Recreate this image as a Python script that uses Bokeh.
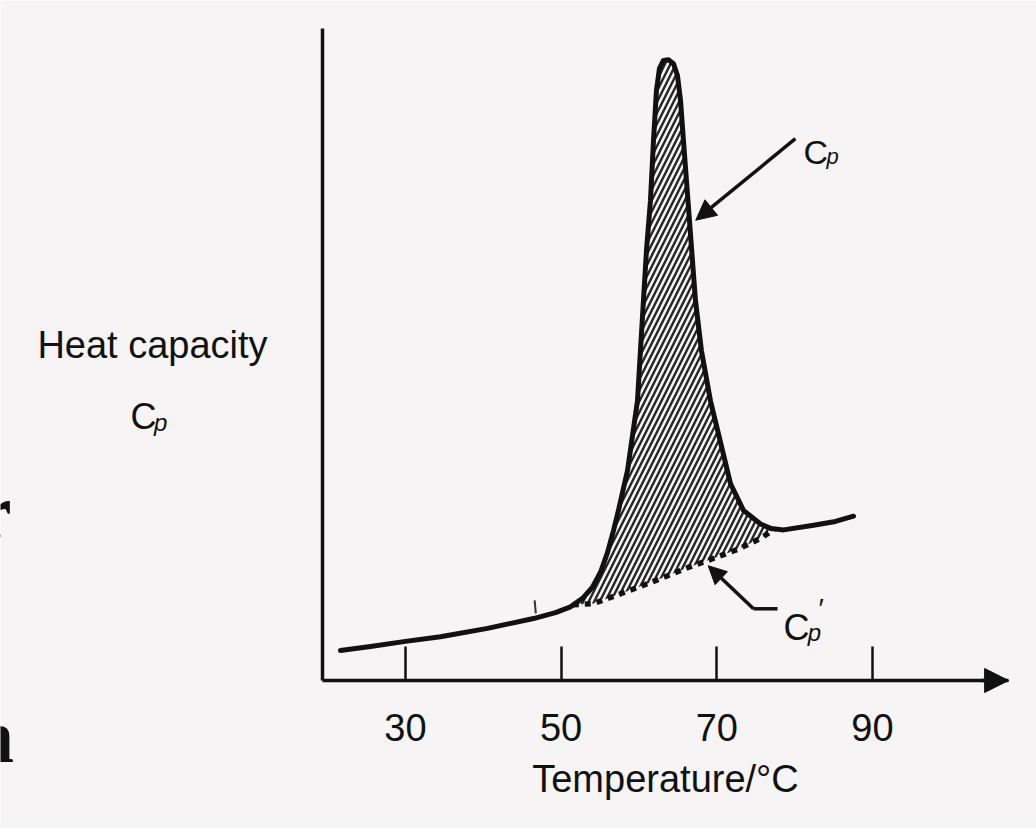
from bokeh.plotting import figure
from bokeh.models import Range1d, FixedTicker, Label, Arrow, NormalHead, LinearAxis
from bokeh.embed import file_html
from bokeh.resources import INLINE

# Heat capacity trace through the unfolding transition (arbitrary units)
temp_c = [21.65, 25.51, 30.0, 34.5, 40.54, 46.45, 49.28, 51.21, 52.75, 54.03,
          55.06, 55.96, 56.73, 57.37, 58.53, 59.81, 60.58, 60.97, 61.48, 61.87,
          62.25, 62.64, 63.15, 63.80, 64.44, 64.95, 65.34, 65.72, 66.37, 67.26,
          68.03, 69.19, 70.73, 71.76, 73.43, 75.62, 77.0, 78.6, 82.43, 85.25, 87.57]
cp = [0.46, 0.52, 0.60, 0.67, 0.80, 0.95, 1.04, 1.13, 1.26, 1.43,
      1.66, 1.96, 2.30, 2.61, 3.22, 4.29, 5.83, 6.60, 7.36, 8.28,
      9.05, 9.39, 9.51, 9.52, 9.46, 9.28, 8.90, 8.28, 7.25, 5.83,
      5.06, 4.29, 3.53, 3.02, 2.61, 2.40, 2.33, 2.31, 2.38, 2.44, 2.52]

# Extrapolated baseline C'p under the peak
base_t = [51.5, 54.16, 57.63, 61.87, 66.24, 68.81, 72.66, 75.62, 77.4]
base_cp = [1.16, 1.18, 1.33, 1.52, 1.73, 1.84, 2.01, 2.18, 2.32]

# Temperature axis ticks and extents of both axes
tick_values = [30, 50, 70, 90]
t_axis = (19.34, 107.5)
cp_axis = (0.0, 10.0)

# Small mark on the pre-transition baseline
onset_t = [46.6, 46.75]
onset_cp = [1.23, 1.03]

BG = "#f6f4f5"
INK = "#111111"
FONT = "Liberation Sans"

# the frame spans the whole canvas; axes sit at fixed data positions inside it
p = figure(width=1036, height=828, output_backend="svg", toolbar_location=None,
           x_range=Range1d(-22.03, 111.08), y_range=Range1d(-2.27, 10.43),
           x_axis_location=None, y_axis_location=None, min_border=0)
p.background_fill_color = BG
p.border_fill_color = BG
p.outline_line_color = None
p.xgrid.visible = False
p.ygrid.visible = False

# temperature axis: inward ticks only at the labelled temperatures
xa = LinearAxis(fixed_location=cp_axis[0], bounds=t_axis,
                ticker=FixedTicker(ticks=tick_values))
xa.minor_tick_line_color = None
xa.major_tick_in = 34
xa.major_tick_out = 0
xa.major_tick_line_width = 2.5
xa.major_tick_line_color = INK
xa.axis_line_width = 3.5
xa.axis_line_color = INK
xa.major_label_text_font = FONT
xa.major_label_text_font_size = "38px"
xa.major_label_text_color = INK
xa.major_label_standoff = 33
xa.axis_label = "Temperature/°C"
xa.axis_label_text_font = FONT
xa.axis_label_text_font_style = "normal"
xa.axis_label_text_font_size = "38px"
xa.axis_label_text_color = INK
xa.axis_label_standoff = 14
p.add_layout(xa, "below")

# heat capacity axis: a bare line
ya = LinearAxis(fixed_location=t_axis[0], bounds=cp_axis,
                ticker=FixedTicker(ticks=[]))
ya.minor_tick_line_color = None
ya.major_tick_line_color = None
ya.major_label_text_font_size = "0px"
ya.axis_line_width = 3.5
ya.axis_line_color = INK
p.add_layout(ya, "left")

# hatched excess heat capacity between trace and baseline
in_peak = [i for i, t in enumerate(temp_c) if base_t[0] < t < base_t[-1]]
poly_x = [temp_c[i] for i in in_peak] + base_t[::-1]
poly_y = [cp[i] for i in in_peak] + base_cp[::-1]
p.patch(poly_x, poly_y, fill_color=None, line_color=None,
        hatch_pattern="/", hatch_color="#262626", hatch_weight=2.4, hatch_scale=11)

p.line(base_t, base_cp, line_color=INK, line_width=5.5, line_dash="6 6")
p.line(temp_c, cp, line_color=INK, line_width=5, line_join="round", line_cap="round")
p.line(onset_t, onset_cp, line_color="#333333", line_width=2)

# arrow head closing the temperature axis
p.add_layout(Arrow(end=NormalHead(size=24, fill_color=INK, line_color=INK),
                   x_start=104.0, y_start=cp_axis[0], x_end=t_axis[1], y_end=cp_axis[0],
                   line_width=3.5, line_color=INK))

# pointer to the Cp trace
p.add_layout(Arrow(end=NormalHead(size=20, fill_color=INK, line_color=INK),
                   x_start=80.1, y_start=8.31, x_end=67.3, y_end=7.06,
                   line_width=3.5, line_color=INK))
# pointer to the baseline C'p
p.line([77.8, 74.72], [1.10, 1.10], line_color=INK, line_width=3.5)
p.add_layout(Arrow(end=NormalHead(size=18, fill_color=INK, line_color=INK),
                   x_start=74.72, y_start=1.10, x_end=68.9, y_end=1.76,
                   line_width=3.5, line_color=INK))


def label(x, y, text, size, style="normal", font=FONT, align="left"):
    p.add_layout(Label(x=x, y=y, text=text, text_font=font,
                       text_font_size=size, text_font_style=style,
                       text_color=INK, text_align=align,
                       text_baseline="alphabetic"))


label(-2.5, 5.14, "Heat capacity", "38px", align="center")
label(-5.33, 4.05, "C", "36px")
label(-2.3, 3.96, "p", "24px", style="italic")

label(81.14, 8.10, "C", "34px")
label(84.1, 8.04, "p", "22px", style="italic")

label(78.57, 0.81, "C", "36px")
label(81.7, 0.74, "p", "24px", style="italic")
label(82.9, 1.10, "′", "28px", style="italic")

# fragments of slide text at the left edge
label(-20.62, 2.6, "r", "76px", style="bold", font="Liberation Serif", align="right")
label(-20.3, -0.85, "n", "76px", style="bold", font="Liberation Serif", align="right")

open("out.html", "w").write(file_html(p, INLINE))
